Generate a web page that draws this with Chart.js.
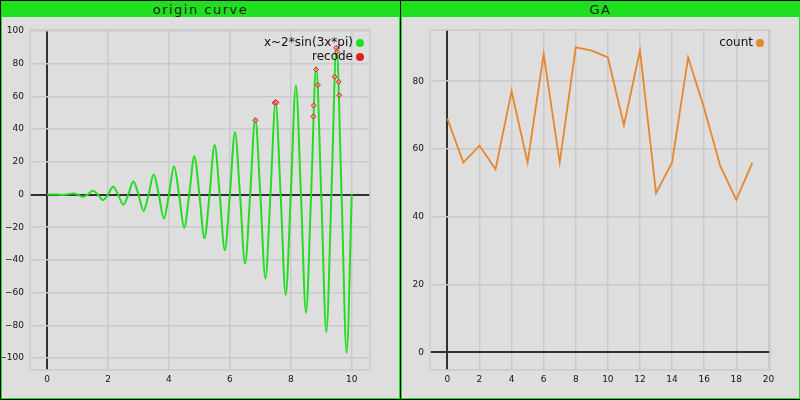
<!DOCTYPE html>
<html>
<head>
<meta charset="utf-8">
<script src="https://cdn.jsdelivr.net/npm/chart.js@4/dist/chart.umd.min.js"></script>
<style>
  html, body { margin:0; padding:0; background:#000; width:800px; height:400px; overflow:hidden; }
  .panel { position:absolute; top:1px; width:397px; height:396px; border:1px solid #1fe01f; background:#dedede; }
  .title { height:15px; line-height:15px; background:#1fe01f; text-align:center; font-family:"DejaVu Sans"; font-size:13px; letter-spacing:1.5px; color:#1a1a1a; }
  canvas { display:block; }
</style>
</head>
<body>
<div class="panel" style="left:1px;">
  <div class="title">origin curve</div>
  <canvas id="c1" width="397" height="381"></canvas>
</div>
<div class="panel" style="left:401px;">
  <div class="title">GA</div>
  <canvas id="c2" width="397" height="381"></canvas>
</div>
<script>
// ---- data: origin curve (peaks, troughs and zero crossings)
const curveX = [0,0.167,0.333,0.5,0.667,0.833,1,1.167,1.333,1.5,1.667,1.833,2,2.167,2.333,2.5,2.667,2.833,3,3.167,3.333,3.5,3.667,3.833,4,4.167,4.333,4.5,4.667,4.833,5,5.167,5.333,5.5,5.667,5.833,6,6.167,6.333,6.5,6.667,6.833,7,7.167,7.333,7.5,7.667,7.833,8,8.167,8.333,8.5,8.667,8.833,9,9.167,9.333,9.5,9.667,9.833,10];
const curveY = [0,0.03,0,-0.25,0,0.69,0,-1.36,0,2.25,0,-3.36,0,4.69,0,-6.25,0,8.03,0,-10.03,0,12.25,0,-14.69,0,17.36,0,-20.25,0,23.36,0,-26.69,0,30.25,0,-34.03,0,38.03,0,-42.25,0,46.69,0,-51.36,0,56.25,0,-61.36,0,66.69,0,-72.25,0,78.03,0,-84.03,0,90.25,0,-96.69,0];
const recodeX = [6.84,7.47,7.50,7.53,8.83,8.89,8.75,8.74,9.49,9.52,9.44,9.57,9.59];
const recodeY = [45.4,56.0,56.6,56.2,76.5,67.0,54.4,47.7,89.7,87.3,72.0,68.9,60.7];
const curveLabel = "x~2*sin(3x*pi)";
const recodeLabel = "recode";
const leftXTicks = [0,2,4,6,8,10];
const leftYTicks = [-100,-80,-60,-40,-20,0,20,40,60,80,100];

// ---- data: GA
const gaGen = [0,1,2,3,4,5,6,7,8,9,10,11,12,13,14,15,16,17,18,19];
const gaCount = [69,56,61,54,77,56,88,56,90,89,87,67,89,47,56,87,72,55,45,56];
const gaLabel = "count";
const rightXTicks = [0,2,4,6,8,10,12,14,16,18,20];
const rightYTicks = [0,20,40,60,80];

const GRID = '#cacaca';
const AXIS = '#303030';
const TICKFONT = { family: 'DejaVu Sans', size: 9 };

function fmt(v) { return v < 0 ? '\u2212' + Math.abs(v) : String(v); }

const framePlugin = {
  id: 'frame',
  beforeDatasetsDraw(chart) {
    const a = chart.chartArea, c = chart.ctx;
    c.save();
    c.strokeStyle = GRID; c.lineWidth = 1.5;
    c.strokeRect(a.left, a.top, a.right - a.left, a.bottom - a.top);
    c.restore();
  },
  afterDraw(chart) {
    const a = chart.chartArea, c = chart.ctx;
    c.save();
    c.font = '12px "DejaVu Sans"';
    c.textAlign = 'right';
    c.textBaseline = 'middle';
    chart.data.datasets.forEach((ds, i) => {
      const y = a.top + 13 + i * 14;
      c.fillStyle = '#111';
      c.fillText(ds.label, a.right - 17, y);
      c.beginPath();
      c.arc(a.right - 10, y, 4, 0, Math.PI * 2);
      c.fillStyle = ds.legendColor;
      c.fill();
    });
    c.restore();
  }
};

function axis(min, max, ticks, isX) {
  return {
    type: 'linear', min: min, max: max,
    afterBuildTicks: s => { s.ticks = ticks.map(v => ({ value: v })); },
    afterFit: s => { if (isX) s.height = 28; else s.width = 28; },
    border: { display: false },
    grid: {
      drawTicks: false,
      color: ctx => (ctx.tick && ctx.tick.value === 0) ? AXIS : GRID,
      lineWidth: ctx => (ctx.tick && ctx.tick.value === 0) ? 2 : 1.5
    },
    ticks: {
      autoSkip: false, maxRotation: 0, minRotation: 0,
      padding: isX ? 4 : 6, color: '#111', font: TICKFONT,
      callback: v => fmt(v)
    }
  };
}

function baseOptions(xs, ys) {
  return {
    responsive: false, animation: false, devicePixelRatio: 1,
    layout: { autoPadding: false, padding: { left: 0, right: 29, top: 13, bottom: 0 } },
    plugins: { legend: { display: false }, tooltip: { enabled: false }, title: { display: false } },
    scales: { x: xs, y: ys }
  };
}

new Chart(document.getElementById('c1'), {
  type: 'line',
  data: {
    datasets: [
      {
        label: curveLabel, legendColor: '#22dd22', order: 1,
        data: curveX.map((x, i) => ({ x: x, y: curveY[i] })),
        borderColor: '#22dd22', borderWidth: 2, pointRadius: 0,
        cubicInterpolationMode: 'monotone', fill: false
      },
      {
        label: recodeLabel, legendColor: '#dd2222', order: 0,
        data: recodeX.map((x, i) => ({ x: x, y: recodeY[i] })),
        showLine: false, pointStyle: 'rectRot', pointRadius: 2.5,
        borderColor: '#e02020', backgroundColor: 'rgba(255,140,140,0.6)', pointBorderWidth: 1
      }
    ]
  },
  options: baseOptions(axis(-0.56, 10.6, leftXTicks, true), axis(-107.3, 100.6, leftYTicks, false)),
  plugins: [framePlugin]
});

new Chart(document.getElementById('c2'), {
  type: 'line',
  data: {
    datasets: [
      {
        label: gaLabel, legendColor: '#e8862a',
        data: gaGen.map((x, i) => ({ x: x, y: gaCount[i] })),
        borderColor: '#e8862a', borderWidth: 1.8, pointRadius: 0, tension: 0, fill: false
      }
    ]
  },
  options: baseOptions(axis(-1.08, 20.1, rightXTicks, true), axis(-5.2, 95.1, rightYTicks, false)),
  plugins: [framePlugin]
});
</script>
</body>
</html>
